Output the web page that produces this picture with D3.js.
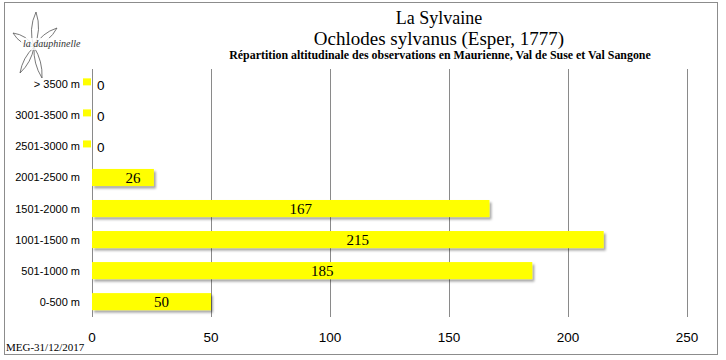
<!DOCTYPE html>
<html><head><meta charset="utf-8">
<script src="https://cdn.jsdelivr.net/npm/d3@7"></script>
<style>body{margin:0;background:#fff}svg{display:block}</style>
</head><body>
<script>
const categories = ["> 3500 m","3001-3500 m","2501-3000 m","2001-2500 m","1501-2000 m","1001-1500 m","501-1000 m","0-500 m"];
const values = [0,0,0,26,167,215,185,50];
const xTicks = [0,50,100,150,200,250];
const titleLines = ["La Sylvaine","Ochlodes sylvanus (Esper, 1777)"];
const subtitle = "Répartition altitudinale des observations en Maurienne, Val de Suse et Val Sangone";
const footer = "MEG-31/12/2017";
const logoText = "la dauphinelle";

const W=726,H=360;
const svg=d3.select("body").append("svg").attr("width",W).attr("height",H);
const defs=svg.append("defs");
const f=defs.append("filter").attr("id","sh").attr("x","-10%").attr("y","-30%").attr("width","130%").attr("height","180%");
f.append("feDropShadow").attr("dx",2).attr("dy",2.5).attr("stdDeviation",1.3).attr("flood-color","#000").attr("flood-opacity",0.35);

svg.append("rect").attr("x",4.5).attr("y",2.5).attr("width",713).attr("height",352).attr("fill","#fff").attr("stroke","#8c8c8c").attr("stroke-width",1);

const x=d3.scaleLinear().domain([0,250]).range([92,687]);
const y=d3.scaleBand().domain(categories).range([69,317]).paddingInner(0.45).paddingOuter(0.22);

// grid
svg.append("g").selectAll("line").data(xTicks.slice(1)).join("line")
 .attr("x1",d=>Math.round(x(d))+0.5).attr("x2",d=>Math.round(x(d))+0.5)
 .attr("y1",69).attr("y2",317).attr("stroke","#8a8a8a").attr("stroke-width",1);
svg.append("line").attr("x1",92.5).attr("x2",92.5).attr("y1",69).attr("y2",317).attr("stroke","#8a8a8a");

// bars
const data=categories.map((c,i)=>({c,v:values[i]}));
svg.append("g").selectAll("rect").data(data.filter(d=>d.v>0)).join("rect")
 .attr("x",x(0)).attr("y",d=>y(d.c)).attr("width",d=>x(d.v)-x(0)).attr("height",y.bandwidth())
 .attr("fill","#ffff00").attr("filter","url(#sh)");
// zero markers
svg.append("g").selectAll("rect").data(data.filter(d=>d.v===0)).join("rect")
 .attr("x",x(0)-9).attr("y",d=>y(d.c)+y.bandwidth()/2-6).attr("width",8).attr("height",7)
 .attr("fill","#ffff00");

// value labels
svg.append("g").selectAll("text").data(data).join("text")
 .attr("x",d=>d.v>0?(x(0)+x(d.v))/2+10:x(0)+5)
 .attr("y",d=>y(d.c)+y.bandwidth()/2+5.5)
 .attr("text-anchor",d=>d.v>0?"middle":"start")
 .attr("font-family",d=>d.v>0?"Liberation Serif, serif":"Liberation Sans, sans-serif")
 .attr("font-size",d=>d.v>0?15:13.5)
 .text(d=>d.v);

// category labels
svg.append("g").selectAll("text").data(categories).join("text")
 .attr("x",80).attr("y",d=>y(d)+y.bandwidth()/2+4)
 .attr("text-anchor","end").attr("font-family","Liberation Sans, sans-serif").attr("font-size",11)
 .text(d=>d);

// x tick labels
svg.append("g").selectAll("text").data(xTicks).join("text")
 .attr("x",d=>x(d)).attr("y",342).attr("text-anchor","middle")
 .attr("font-family","Liberation Sans, sans-serif").attr("font-size",13.5).text(d=>d);

// titles
svg.append("text").attr("x",439).attr("y",23.5).attr("text-anchor","middle").attr("font-family","Liberation Serif, serif").attr("font-size",18).text(titleLines[0]);
svg.append("text").attr("x",439).attr("y",45).attr("text-anchor","middle").attr("font-family","Liberation Serif, serif").attr("font-size",19).text(titleLines[1]);
svg.append("text").attr("x",440).attr("y",58.5).attr("text-anchor","middle").attr("font-family","Liberation Serif, serif").attr("font-weight","bold").attr("font-size",11.9).text(subtitle);

// footer
svg.append("text").attr("x",6).attr("y",351).attr("font-family","Liberation Serif, serif").attr("font-size",11).text(footer);

// logo: petal outlines from a common centre
const lg=svg.append("g").attr("fill","none").attr("stroke","#555").attr("stroke-width",0.8);
function petal(cx,cy,tx,ty,w){
  const mx=(cx+tx)/2, my=(cy+ty)/2, dx=tx-cx, dy=ty-cy, L=Math.hypot(dx,dy);
  const nx=-dy/L*w, ny=dx/L*w;
  return `M${cx},${cy} Q${mx+nx},${my+ny} ${tx},${ty} Q${mx-nx},${my-ny} ${cx},${cy}`;
}
const c0=[34,47];
[[36,12,7],[57,28,6],[13,33,6],[20,73,5],[42,78,5]].forEach(p=>{
  lg.append("path").attr("d",petal(c0[0],c0[1],p[0],p[1],p[2]));
});
svg.append("rect").attr("x",21).attr("y",38).attr("width",62).attr("height",12).attr("fill","#fff").attr("opacity",0.85);
svg.append("text").attr("x",23).attr("y",47).attr("font-family","Liberation Serif, serif").attr("font-style","italic").attr("font-size",10).attr("fill","#333").text(logoText);
</script>
</body></html>
